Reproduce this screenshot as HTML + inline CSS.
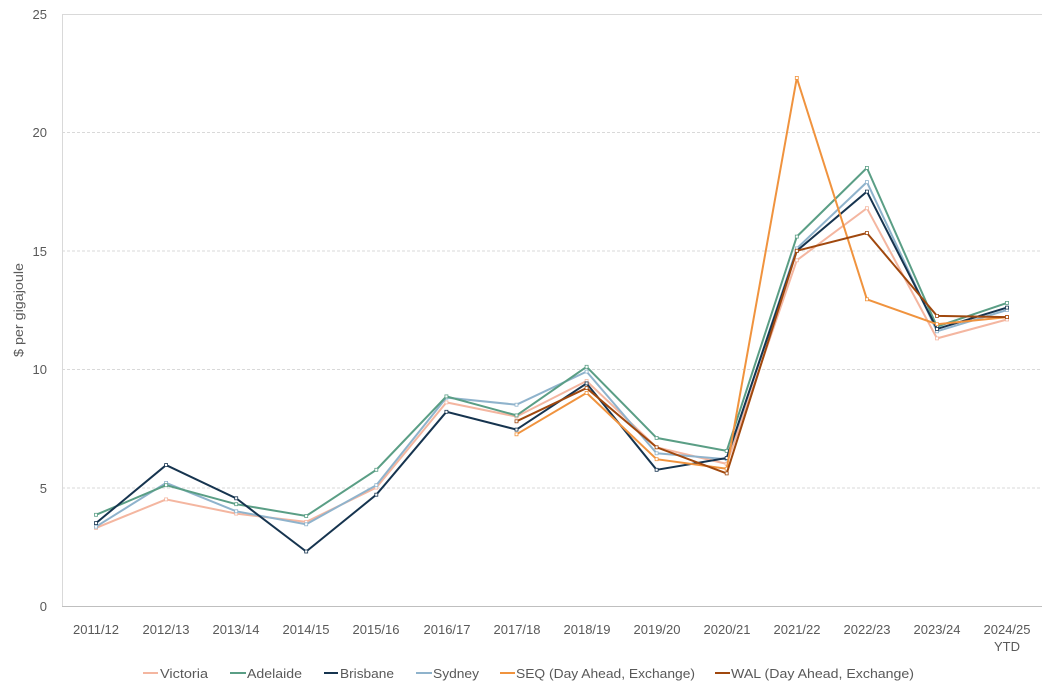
<!DOCTYPE html>
<html><head><meta charset="utf-8"><style>
body{margin:0;background:#fff;}
svg{display:block;font-family:"Liberation Sans",sans-serif;}
</style></head><body>
<svg id="c" width="1051" height="689" xmlns="http://www.w3.org/2000/svg">
<g stroke="#d9d9d9" stroke-width="1" stroke-dasharray="3,2">
<line x1="62" x2="1042" y1="132.5" y2="132.5"/>
<line x1="62" x2="1042" y1="251" y2="251"/>
<line x1="62" x2="1042" y1="369.5" y2="369.5"/>
<line x1="62" x2="1042" y1="488" y2="488"/>
</g>
<line x1="62" x2="1042" y1="14.5" y2="14.5" stroke="#d9d9d9"/>
<line x1="62" x2="1042" y1="606.5" y2="606.5" stroke="#bfbfbf"/>
<line x1="62.5" x2="62.5" y1="14" y2="606" stroke="#d9d9d9"/>
<g font-size="13" fill="#595959" text-anchor="end">
<text x="47" y="19">25</text><text x="47" y="137">20</text><text x="47" y="256">15</text>
<text x="47" y="374">10</text><text x="47" y="493">5</text><text x="47" y="611">0</text>
</g>
<text transform="translate(23,310) rotate(-90)" font-size="13" fill="#595959" text-anchor="middle" textLength="94" lengthAdjust="spacingAndGlyphs">$ per gigajoule</text>
<g font-size="13" fill="#595959" text-anchor="middle">
<text x="96" y="634">2011/12</text><text x="166" y="634">2012/13</text><text x="236" y="634">2013/14</text>
<text x="306" y="634">2014/15</text><text x="376" y="634">2015/16</text><text x="447" y="634">2016/17</text>
<text x="517" y="634">2017/18</text><text x="587" y="634">2018/19</text><text x="657" y="634">2019/20</text>
<text x="727" y="634">2020/21</text><text x="797" y="634">2021/22</text><text x="867" y="634">2022/23</text>
<text x="937" y="634">2023/24</text><text x="1007" y="634">2024/25</text><text x="1007" y="651">YTD</text>
</g>
<g id="series"></g>
<g font-size="13" fill="#595959">
<line x1="143" x2="158" y1="673" y2="673" stroke="#f4b6a0" stroke-width="2"/><text x="160" y="678" textLength="48" lengthAdjust="spacingAndGlyphs">Victoria</text>
<line x1="230" x2="246" y1="673" y2="673" stroke="#5a9e85" stroke-width="2"/><text x="247" y="678" textLength="55" lengthAdjust="spacingAndGlyphs">Adelaide</text>
<line x1="324" x2="338" y1="673" y2="673" stroke="#16344f" stroke-width="2"/><text x="340" y="678" textLength="54" lengthAdjust="spacingAndGlyphs">Brisbane</text>
<line x1="416" x2="432" y1="673" y2="673" stroke="#8fb3cc" stroke-width="2"/><text x="433" y="678" textLength="46" lengthAdjust="spacingAndGlyphs">Sydney</text>
<line x1="500" x2="515" y1="673" y2="673" stroke="#f0933e" stroke-width="2"/><text x="516" y="678" textLength="179" lengthAdjust="spacingAndGlyphs">SEQ (Day Ahead, Exchange)</text>
<line x1="715" x2="730" y1="673" y2="673" stroke="#a0480e" stroke-width="2"/><text x="731" y="678" textLength="183" lengthAdjust="spacingAndGlyphs">WAL (Day Ahead, Exchange)</text>
</g>
</svg>
<script>
var S=[
["#f4b6a0",0,[3.3,4.5,3.9,3.55,5.0,8.6,8.0,9.5,6.7,6.0,14.6,16.8,11.3,12.1]],
["#8fb3cc",0,[3.35,5.2,4.0,3.45,5.1,8.8,8.5,9.9,6.45,6.2,15.1,17.9,11.6,12.5]],
["#5a9e85",0,[3.85,5.1,4.3,3.8,5.75,8.85,8.05,10.1,7.1,6.55,15.6,18.5,11.8,12.8]],
["#16344f",0,[3.5,5.95,4.55,2.3,4.7,8.2,7.45,9.4,5.75,6.25,15.0,17.5,11.7,12.6]],
["#f0933e",6,[7.25,9.0,6.2,5.8,22.3,12.95,11.9,12.2]],
["#a0480e",6,[7.8,9.2,6.7,5.6,15.0,15.75,12.25,12.2]]];
var g=document.getElementById('series'),h='';
S.forEach(function(s){var p=s[2].map(function(v,i){return (96+(i+s[1])*70.08).toFixed(1)+','+(606-v*23.68).toFixed(1)});
h+='<polyline fill="none" stroke="'+s[0]+'" stroke-width="2" points="'+p.join(' ')+'"/>';
p.forEach(function(q){var a=q.split(',');h+='<rect x="'+(a[0]-1.5)+'" y="'+(a[1]-1.5)+'" width="3" height="3" fill="#fff" stroke="'+s[0]+'" stroke-width="0.8"/>';});});
g.innerHTML=h;
</script>
</body></html>
